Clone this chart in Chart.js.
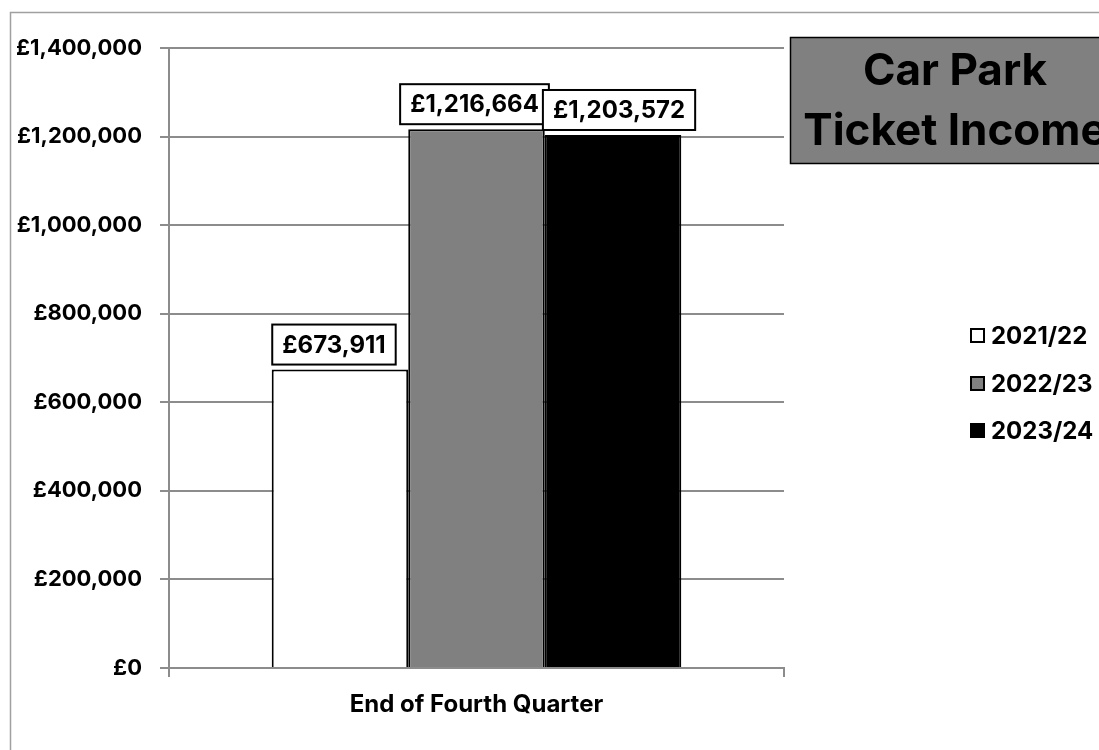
<!DOCTYPE html>
<html>
<head>
<meta charset="utf-8">
<script src="https://cdn.jsdelivr.net/npm/chart.js@4.4.1/dist/chart.umd.min.js"></script>
<style>
  html, body { margin: 0; padding: 0; background: #ffffff; }
  #wrap { position: relative; width: 1099px; height: 750px; }
</style>
</head>
<body>
<div id="wrap"><canvas id="c" width="1099" height="750"></canvas></div>
<script>
const categories = ['End of Fourth Quarter'];
const seriesNames = ['2021/22', '2022/23', '2023/24'];
const values2021 = [673911];
const values2022 = [1216664];
const values2023 = [1203572];
const seriesColors = ['#ffffff', '#808080', '#000000'];
const yTicks = { min: 0, max: 1400000, step: 200000 };
const titleLines = ['Car Park', 'Ticket Income'];

const FONT = 'Inter, "Liberation Sans", Arial, sans-serif';
const GRID = '#8c8c8c';

function money(v) { return '£' + Number(v).toLocaleString('en-GB'); }

const framePlugin = {
  id: 'frame',
  beforeDraw(chart) {
    const ctx = chart.ctx;
    ctx.save();
    ctx.strokeStyle = '#a0a0a0';
    ctx.lineWidth = 1.5;
    ctx.strokeRect(10.5, 12.5, 1200, 900);
    ctx.restore();
  }
};

const labelPlugin = {
  id: 'boxLabels',
  afterDatasetsDraw(chart, args, opts) {
    const ctx = chart.ctx;
    ctx.save();
    ctx.font = 'bold 24px ' + FONT;
    ctx.textAlign = 'center';
    ctx.textBaseline = 'middle';
    chart.data.datasets.forEach((ds, di) => {
      const meta = chart.getDatasetMeta(di);
      meta.data.forEach((bar, i) => {
        const txt = money(ds.data[i]);
        const w = ctx.measureText(txt).width + 20;
        const h = 40;
        const cx = bar.x + (opts.nudge[di] || 0);
        const bottom = bar.y - 5;
        ctx.fillStyle = '#ffffff';
        ctx.fillRect(cx - w / 2, bottom - h, w, h);
        ctx.strokeStyle = '#000000';
        ctx.lineWidth = 2;
        ctx.strokeRect(cx - w / 2, bottom - h, w, h);
        ctx.fillStyle = '#000000';
        ctx.fillText(txt, cx, bottom - h / 2 + 1);
      });
    });
    ctx.restore();
  }
};

const sidePlugin = {
  id: 'side',
  afterDraw(chart) {
    const ctx = chart.ctx;
    ctx.save();
    // title box
    ctx.fillStyle = '#808080';
    ctx.fillRect(790, 37, 340, 126);
    ctx.strokeStyle = '#000000';
    ctx.lineWidth = 1.5;
    ctx.strokeRect(790.5, 37.5, 340, 126);
    ctx.fillStyle = '#000000';
    ctx.font = 'bold 44px ' + FONT;
    ctx.textAlign = 'center';
    ctx.textBaseline = 'alphabetic';
    ctx.fillText(titleLines[0], 955, 85);
    ctx.fillText(titleLines[1], 955, 145);
    // legend
    ctx.font = 'bold 24px ' + FONT;
    ctx.textAlign = 'left';
    ctx.textBaseline = 'middle';
    const rows = [336, 384, 431];
    chart.data.datasets.forEach((ds, i) => {
      const y = rows[i];
      ctx.fillStyle = ds.backgroundColor;
      ctx.fillRect(971, y - 7, 13, 13);
      ctx.strokeStyle = '#000000';
      ctx.lineWidth = 2;
      ctx.strokeRect(971, y - 7, 13, 13);
      ctx.fillStyle = '#000000';
      ctx.fillText(ds.label, 991, y + 1);
    });
    ctx.restore();
  }
};

const seriesValues = [values2021, values2022, values2023];

new Chart(document.getElementById('c'), {
  type: 'bar',
  data: {
    labels: categories,
    datasets: seriesNames.map((name, i) => ({
      label: name,
      data: seriesValues[i],
      backgroundColor: seriesColors[i],
      borderColor: '#000000',
      borderWidth: 2,
      categoryPercentage: 0.666,
      barPercentage: 1.0
    }))
  },
  options: {
    responsive: false,
    animation: false,
    devicePixelRatio: 1,
    layout: { padding: { left: 0, top: 48, right: 315, bottom: 0 } },
    plugins: {
      legend: { display: false },
      tooltip: { enabled: false },
      title: { display: false },
      boxLabels: { nudge: [-6, -2, 6] }
    },
    scales: {
      x: {
        offset: true,
        grid: { display: true, offset: true, drawOnChartArea: false, drawTicks: true, tickLength: 9, color: GRID, lineWidth: 2 },
        border: { display: true, color: GRID, width: 2 },
        ticks: { color: '#000000', font: { family: FONT, size: 24, weight: 'bold' }, padding: 13, maxRotation: 0 },
        afterFit(scale) { scale.height = 82; }
      },
      y: {
        min: yTicks.min,
        max: yTicks.max,
        grid: { color: GRID, lineWidth: 2, tickLength: 9, drawTicks: true },
        border: { display: true, color: GRID, width: 2 },
        ticks: {
          stepSize: yTicks.step,
          color: '#000000',
          font: { family: FONT, size: 22, weight: 'bold' },
          padding: 18,
          callback: (v) => money(v)
        },
        afterFit(scale) { scale.width = 169; }
      }
    }
  },
  plugins: [framePlugin, labelPlugin, sidePlugin]
});
</script>
</body>
</html>
